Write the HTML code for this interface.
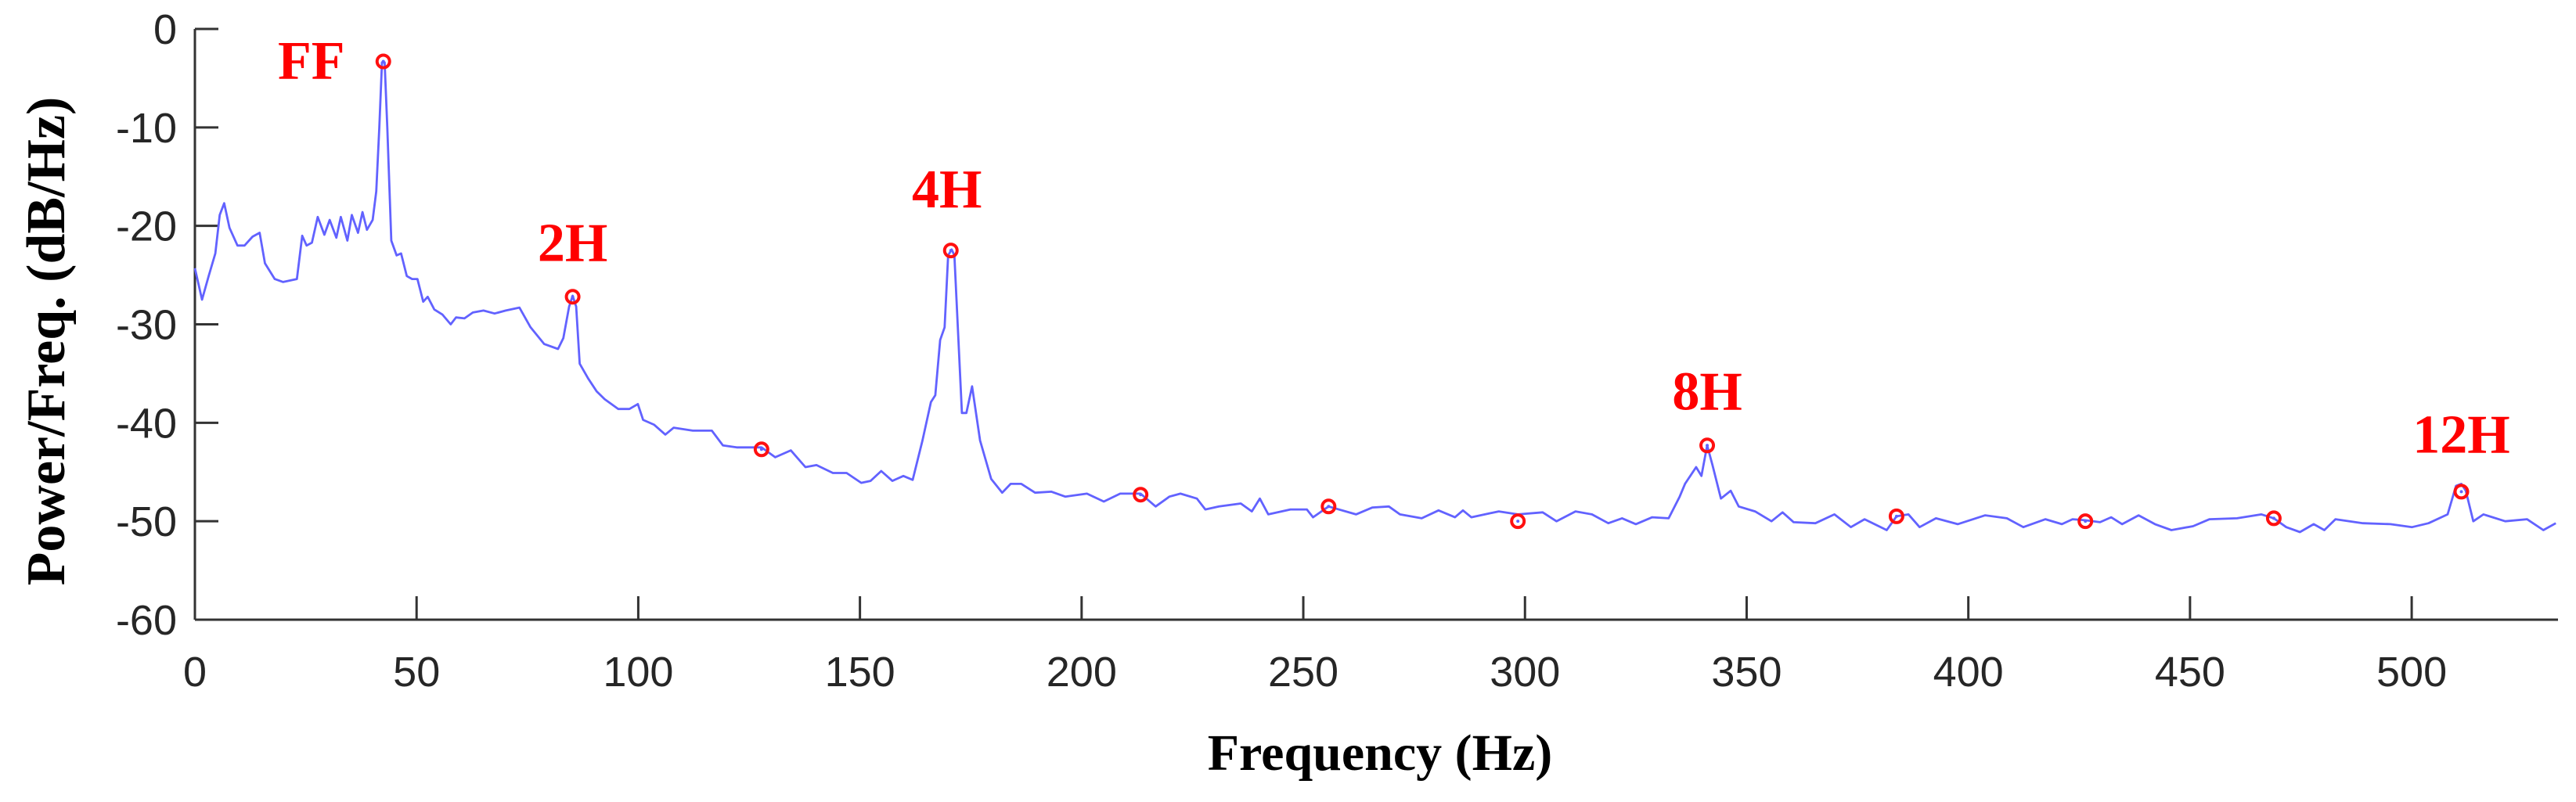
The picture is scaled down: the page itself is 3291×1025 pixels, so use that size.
<!DOCTYPE html>
<html><head><meta charset="utf-8"><style>
html,body{margin:0;padding:0;background:#fff;}
svg{display:block;}
</style></head><body>
<svg id="chart" width="3291" height="1025" viewBox="0 0 3291 1025" xmlns="http://www.w3.org/2000/svg">
<g id="axes"></g>
<g id="series"></g>
<g id="markers"></g>
<text x="0" y="0" transform="translate(82,436) rotate(-90)" text-anchor="middle" font-family="Liberation Serif, serif" font-weight="bold" font-size="70" fill="#000">Power/Freq. (dB/Hz)</text>
<text x="1763" y="984" text-anchor="middle" font-family="Liberation Serif, serif" font-weight="bold" font-size="66" fill="#000">Frequency (Hz)</text>
</svg>
<script>
const xTicks=[0,50,100,150,200,250,300,350,400,450,500];
const yTicks=[0,-10,-20,-30,-40,-50,-60];
const freqs=[0,1.6,3.1,4.6,5.6,6.6,7.8,9.6,11.2,13,14.6,15.8,18,19.9,23,24.2,25.2,26.4,27.7,29.2,30.4,31.9,32.9,34.4,35.4,36.8,37.8,38.8,40.1,40.9,41.6,42.2,42.8,43.4,44.3,45.5,46.5,47.8,49,50.2,51.5,52.5,54,55.8,57.7,58.9,60.8,62.7,65.1,67.6,70.1,73.2,75.7,78.8,81.9,83.1,84.4,85.2,86,86.8,88.7,90.6,92.4,95.5,98,99.9,101.1,103.6,106.1,108,112.3,116.6,119.1,122.2,127.8,130.9,134.4,137.7,140.2,143.9,147,150.3,152.4,154.8,157.3,159.8,161.9,164.1,166,167,168.1,169.1,169.9,170.7,171.3,173,174,175.3,177.1,179.6,182.1,184,186.4,189.5,193.2,196.3,201.2,205,208.7,213.3,216.7,219.8,222.3,226,227.9,231,235.9,238.4,240.2,242.1,247.1,250.8,252.2,255.7,261.9,265.6,269.3,271.8,276.7,280.5,284.2,286,287.9,294.1,298.4,304,307.1,311.4,315.1,318.8,321.9,325,328.7,332.4,334.9,336.1,338.6,339.8,341.1,342.3,344.2,346.4,348.2,351.9,355.6,358.1,360.6,365.5,369.8,373.5,376.6,381.6,383.8,386.5,389,392.7,397.6,403.8,408.7,412.4,417.4,421.1,423.5,426.4,429.7,432.2,434.7,438.4,442.1,445.8,450.7,454.4,460.6,466.1,468.9,471.7,474.8,477.9,480.3,482.8,489,495.2,500.1,503.8,508.1,510,511.2,512.2,513.9,516.2,521.1,526,529.7,532.5];
const power=[-24.3,-27.5,-25.1,-22.8,-18.9,-17.7,-20.2,-22,-22,-21.1,-20.7,-23.8,-25.4,-25.7,-25.4,-21,-22,-21.7,-19.1,-20.9,-19.4,-21.2,-19.1,-21.5,-18.9,-20.7,-18.6,-20.4,-19.4,-16.5,-10,-3.4,-3.4,-10,-21.5,-23,-22.8,-25.1,-25.4,-25.4,-27.7,-27.2,-28.5,-29,-30,-29.3,-29.4,-28.8,-28.6,-28.9,-28.6,-28.3,-30.3,-32,-32.5,-31.4,-28.2,-27.1,-28.2,-34,-35.5,-36.8,-37.6,-38.6,-38.6,-38.1,-39.7,-40.2,-41.2,-40.5,-40.8,-40.8,-42.3,-42.5,-42.5,-43.5,-42.8,-44.5,-44.3,-45.1,-45.1,-46.1,-45.9,-44.9,-45.9,-45.4,-45.8,-41.8,-37.9,-37.2,-31.6,-30.3,-23,-22.4,-23,-39,-39,-36.3,-41.8,-45.7,-47.1,-46.2,-46.2,-47.1,-47,-47.5,-47.2,-48,-47.2,-47.2,-48.5,-47.5,-47.2,-47.7,-48.8,-48.5,-48.2,-49,-47.7,-49.3,-48.8,-48.8,-49.6,-48.5,-49.3,-48.6,-48.5,-49.3,-49.7,-48.9,-49.6,-48.9,-49.6,-49,-49.3,-49.1,-50,-49,-49.3,-50.2,-49.7,-50.3,-49.6,-49.7,-47.5,-46.2,-44.5,-45.4,-42.3,-44.3,-47.7,-46.9,-48.5,-49,-50,-49.1,-50.1,-50.2,-49.3,-50.6,-49.8,-50.9,-49.5,-49.3,-50.6,-49.7,-50.3,-49.4,-49.7,-50.6,-49.8,-50.3,-49.8,-49.9,-50.1,-49.6,-50.3,-49.4,-50.3,-50.9,-50.5,-49.8,-49.7,-49.3,-49.7,-50.6,-51.1,-50.3,-50.9,-49.8,-50.2,-50.3,-50.6,-50.2,-49.3,-46.4,-46.2,-46.9,-50,-49.3,-50,-49.8,-50.9,-50.2];
const harmFreqs=[42.5,85.2,127.8,170.5,213.3,255.7,298.4,341.1,383.8,426.4,468.9,511.2];
const harmPower=[-3.3,-27.2,-42.7,-22.5,-47.3,-48.5,-50,-42.3,-49.5,-50,-49.7,-47];
const labelNames=["FF","2H","4H","8H","12H"];
const labelIdx=[0,1,3,7,11];
const labelDx=[-92,0,-5,0,0];
const labelDy=[22,-46,-55,-46,-50];
const X0=249,XMAX=533,XR=3268,Y0=37,YB=792;
function xs(f){return X0+(f/XMAX)*(XR-X0);}
function ys(d){return Y0+(-d/60)*(YB-Y0);}
const NS="http://www.w3.org/2000/svg";
function mk(t,a,p){const e=document.createElementNS(NS,t);for(const k in a)e.setAttribute(k,a[k]);p.appendChild(e);return e;}
const ax=document.getElementById('axes');
let l=mk('line',{x1:X0,y1:Y0,x2:X0,y2:YB,stroke:'#333',"stroke-width":3},ax);


l=mk('line',{x1:X0,y1:YB,x2:XR,y2:YB,stroke:'#333',"stroke-width":3},ax);


xTicks.forEach(v=>{const x=xs(v);
 const t=mk('line',{x1:x,y1:YB,x2:x,y2:YB-30,stroke:'#333',"stroke-width":3},ax);
 
 
 const tx=mk('text',{x:x,y:877,"text-anchor":"middle","font-family":"Liberation Sans, sans-serif","font-size":54,fill:"#262626"},ax);
 
 
 tx.textContent=v;});
yTicks.forEach(v=>{const y=ys(v);
 const t=mk('line',{x1:X0,y1:y,x2:X0+30,y2:y,stroke:'#333',"stroke-width":3},ax);
 
 
 const tx=mk('text',{x:226,y:y+19,"text-anchor":"end","font-family":"Liberation Sans, sans-serif","font-size":54,fill:"#262626"},ax);
 
 
 tx.textContent=v;});
const pts=freqs.map((f,i)=>xs(f).toFixed(1)+','+ys(power[i]).toFixed(1)).join(' ');
const pl=mk('polyline',{points:pts,fill:'none',stroke:'#6262ff',"stroke-width":2.8,"stroke-linejoin":"round"},document.getElementById('series'));


const mg=document.getElementById('markers');
harmFreqs.forEach((f,i)=>{
 const c=mk('circle',{cx:xs(f),cy:ys(harmPower[i]),r:8,fill:'none',stroke:'#ff1010',"stroke-width":4},mg);
 
 
 const d=mk('circle',{cx:xs(f),cy:ys(harmPower[i]),r:2,fill:'#6262ff'},mg);
 
 
});
labelIdx.forEach((hi,j)=>{
 const f=harmFreqs[hi],p=harmPower[hi];
 const t=mk('text',{x:xs(f)+labelDx[j],y:ys(p)+labelDy[j],"text-anchor":"middle","font-family":"Liberation Serif, serif","font-weight":"bold","font-size":70,fill:"#ff0000"},mg);
 
 
 t.textContent=labelNames[j];
});
</script>
</body></html>
